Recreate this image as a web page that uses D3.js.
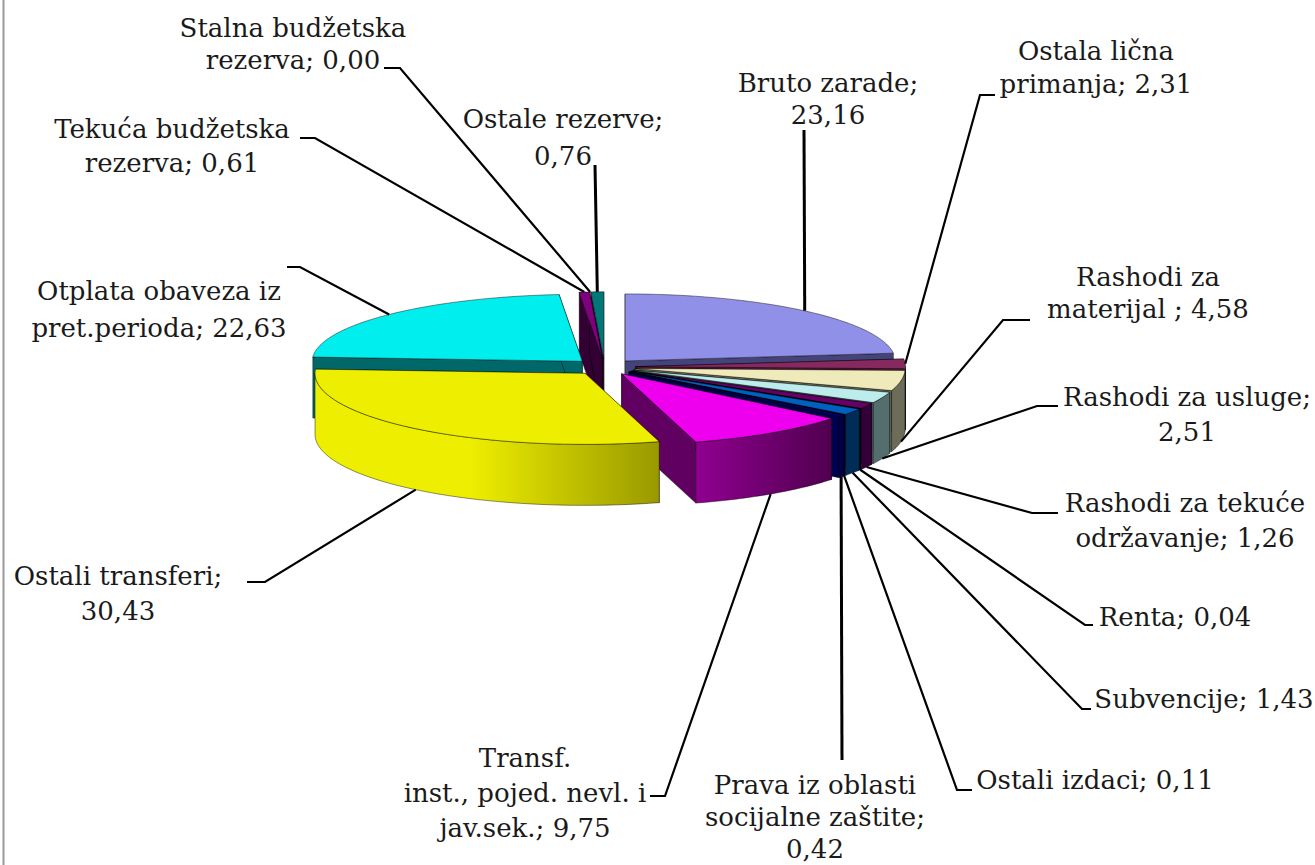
<!DOCTYPE html>
<html>
<head>
<meta charset="utf-8">
<script src="https://cdnjs.cloudflare.com/ajax/libs/d3/7.8.5/d3.min.js"></script>
<style>
  html, body { margin: 0; padding: 0; background: #fff; }
  svg { display: block; }
  text { font-family: "DejaVu Serif", serif; font-size: 26px; fill: #1a1a1a; }
</style>
</head>
<body>
<div id="chart"></div>
<script>
// podaci
const categories = ["Bruto zarade", "Ostala lična primanja", "Rashodi za materijal", "Rashodi za usluge",
    "Rashodi za tekuće održavanje", "Renta", "Subvencije", "Ostali izdaci", "Prava iz oblasti socijalne zaštite",
    "Transf. inst., pojed. nevl. i jav.sek.", "Ostali transferi", "Otplata obaveza iz pret.perioda",
    "Tekuća budžetska rezerva", "Stalna budžetska rezerva", "Ostale rezerve"];
const values = [23.16, 2.31, 4.58, 2.51, 1.26, 0.04, 1.43, 0.11, 0.42, 9.75, 30.43, 22.63, 0.61, 0.00, 0.76];

// redovi teksta, % je mjesto za vrijednost
const labelRows = [
    ["Bruto zarade;", "%"], ["Ostala lična", "primanja; %"], ["Rashodi za", "materijal ; %"],
    ["Rashodi za usluge;", "%"], ["Rashodi za tekuće", "održavanje; %"], ["Renta; %"], ["Subvencije; %"],
    ["Ostali izdaci; %"], ["Prava iz oblasti", "socijalne zaštite;", "%"],
    ["Transf.", "inst., pojed. nevl. i", "jav.sek.; %"], ["Ostali transferi;", "%"],
    ["Otplata obaveza iz", "pret.perioda; %"], ["Tekuća budžetska", "rezerva; %"],
    ["Stalna budžetska", "rezerva; %"], ["Ostale rezerve;", "%"]
];

// boje
const topColors = ["#9090e8", "#85295f", "#eeeaba", "#bcecec", "#660066", "#555555", "#0060c0", "#000060", "#000070",
    "#ee00ee", "#eeee00", "#00eeee", "#800080", "#000000", "#007878"];
const wallLight = ["#44447a", "#5a1a40", "#6c6c58", "#546e6e", "#33003a", "#222222", "#002c58", "#000040", "#000050",
    "#900090", "#eeee00", "#006868", "#330033", "#000000", "#003c3c"];
const wallDark = ["#44447a", "#5a1a40", "#6c6c58", "#546e6e", "#33003a", "#222222", "#002c58", "#000040", "#000050",
    "#500050", "#999900", "#006868", "#330033", "#000000", "#003c3c"];
const endWall = ["#44447a", "#5a1a40", "#6c6c58", "#546e6e", "#33003a", "#222222", "#002c58", "#000040", "#000050",
    "#600060", "#999900", "#006868", "#330033", "#000000", "#330033"];

// pozicije teksta: centar x, prva osnovna linija, razmak, i linija do teksta
const labelLayout = [
    {x: 828, y: 92, dy: 32, leader: [[804, 130]]},
    {x: 1096, y: 60, dy: 33, leader: [[980, 95], [995, 95]]},
    {x: 1148, y: 286, dy: 32, leader: [[1003, 320], [1030, 320]]},
    {x: 1187, y: 406, dy: 35, leader: [[1037, 406], [1058, 406]]},
    {x: 1185, y: 512, dy: 35, leader: [[1032, 513], [1058, 513]]},
    {x: 1175, y: 626, dy: 33, leader: [[1085, 625], [1093, 625]]},
    {x: 1204, y: 708, dy: 33, leader: [[1082, 709], [1091, 709]]},
    {x: 1095, y: 789, dy: 33, leader: [[957, 790], [972, 790]]},
    {x: 815, y: 794, dy: 32, leader: [[842, 760]]},
    {x: 525, y: 767, dy: 35, leader: [[665, 796], [650, 796]]},
    {x: 118, y: 585, dy: 35, leader: [[265, 582], [247, 582]]},
    {x: 159, y: 300, dy: 37, leader: [[300, 267], [287, 267]]},
    {x: 172, y: 138, dy: 34, leader: [[315, 138], [300, 138]]},
    {x: 293, y: 37, dy: 32, leader: [[400, 68], [384, 68]]},
    {x: 563, y: 128, dy: 37, leader: [[595, 165]]}
];

// redoslijed crtanja, od pozadi ka naprijed
const drawOrder = [14, 13, 12, 11, 0, 1, 2, 3, 4, 5, 6, 7, 8, 9, 10];

const width = 1315, height = 865;
const cx = 604.5, cy = 367, rx = 270, ryBack = 67, ryFront = 71, depth = 61, explode = 0.115;

const svg = d3.select("#chart").append("svg")
    .attr("width", width)
    .attr("height", height);
const defs = svg.append("defs");

// lijeva siva ivica
svg.append("line")
    .attr("x1", 3.5).attr("x2", 3.5).attr("y1", 0).attr("y2", height)
    .attr("stroke", "#999").attr("stroke-width", 2);

const pie = d3.pie().sort(null).value(d => d);
const arcs = pie(values);

// tacka na elipsi za dati ugao (r = 0 je vrh isjecka); zadnja polovina je malo plica zbog perspektive
function project(d, angle, r, z) {
    const mid = (d.startAngle + d.endAngle) / 2;
    const ry = Math.cos(angle) > 0 ? ryBack : ryFront;
    return [
        cx + explode * rx * Math.sin(mid) + r * rx * Math.sin(angle),
        cy - explode * ryFront * Math.cos(mid) - r * ry * Math.cos(angle) + z
    ];
}

function rimPoints(d, a0, a1, z) {
    const n = Math.max(2, Math.ceil((a1 - a0) / 0.02));
    const t = d3.scaleLinear().domain([0, n]).range([a0, a1]);
    return d3.range(n + 1).map(i => project(d, t(i), 1, z));
}

const line = d3.line();

function face(pts, fill) {
    svg.append("path")
        .attr("d", line(pts) + "Z")
        .attr("fill", fill)
        .attr("stroke", "#000")
        .attr("stroke-opacity", 0.55)
        .attr("stroke-width", 0.8)
        .attr("stroke-linejoin", "round");
}

drawOrder.forEach(i => {
    const d = arcs[i];
    if (d.value === 0) return;

    // radijalni zidovi
    [d.startAngle, d.endAngle].forEach(a => {
        face([project(d, a, 0, 0), project(d, a, 1, 0), project(d, a, 1, depth), project(d, a, 0, depth)], endWall[i]);
    });

    // spoljni zid, samo prednja polovina
    const a0 = Math.max(d.startAngle, Math.PI / 2);
    const a1 = Math.min(d.endAngle, Math.PI * 1.5);
    if (a1 > a0) {
        const upper = rimPoints(d, a0, a1, 0);
        const lower = rimPoints(d, a0, a1, depth).reverse();
        const xs = d3.extent(upper, p => p[0]);
        const id = "wall" + i;
        // svjetlo dolazi s lijeve strane
        const grad = defs.append("linearGradient")
            .attr("id", id)
            .attr("gradientUnits", "userSpaceOnUse")
            .attr("x1", xs[0]).attr("x2", xs[1]).attr("y1", 0).attr("y2", 0);
        grad.append("stop").attr("offset", i === 10 ? "0.45" : "0").attr("stop-color", wallLight[i]);
        grad.append("stop").attr("offset", "1").attr("stop-color", wallDark[i]);
        face(upper.concat(lower), "url(#" + id + ")");
    }

    // gornja strana
    face([project(d, 0, 0, 0)].concat(rimPoints(d, d.startAngle, d.endAngle, 0)), topColors[i]);
});

// linije do natpisa
arcs.forEach((d, i) => {
    const mid = (d.startAngle + d.endAngle) / 2;
    const front = Math.cos(mid) < 0;
    const start = project(d, mid, 1, front ? depth : 0);
    svg.append("path")
        .attr("d", line([start].concat(labelLayout[i].leader)))
        .attr("fill", "none")
        .attr("stroke", "#000")
        .attr("stroke-width", labelLayout[i].leader.length === 1 ? 3 : 2.2);
});

// natpisi
const fmt = v => d3.format(".2f")(v).replace(".", ",");
categories.forEach((c, i) => {
    const l = labelLayout[i];
    const t = svg.append("text")
        .attr("text-anchor", "middle")
        .attr("data-category", c);
    labelRows[i].forEach((row, k) => {
        t.append("tspan")
            .attr("x", l.x)
            .attr("y", l.y + k * l.dy)
            .text(row.replace("%", fmt(values[i])));
    });
});
</script>
</body>
</html>
